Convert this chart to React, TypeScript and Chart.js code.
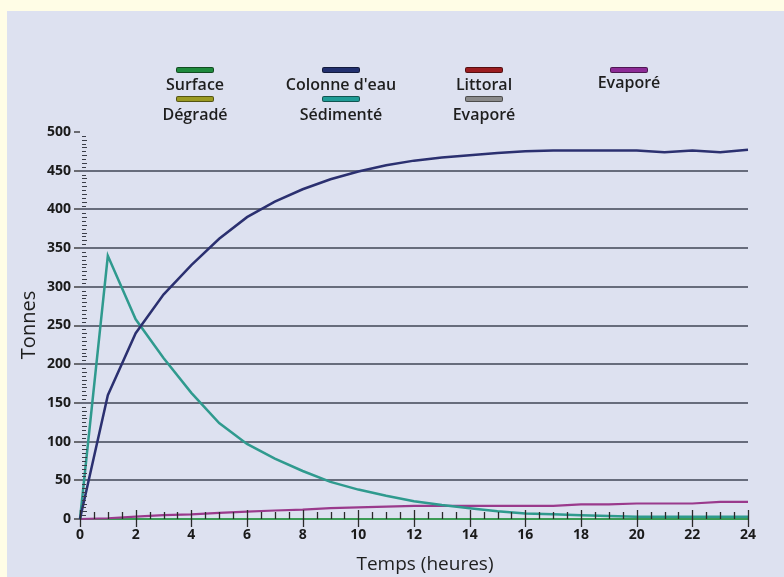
import React, { useEffect, useRef } from "react";
import { Chart, registerables } from "chart.js";

Chart.register(...registerables);

// ---- data ----
const hours = [0, 1, 2, 3, 4, 5, 6, 7, 8, 9, 10, 11, 12, 13, 14, 15, 16, 17, 18, 19, 20, 21, 22, 23, 24];
const colonneEau = [0, 160, 240, 290, 328, 362, 390, 410, 426, 439, 449, 457, 463, 467, 470, 473, 475, 476, 476, 476, 476, 474, 476, 474, 477];
const sedimente = [0, 340, 258, 208, 163, 124, 97, 78, 62, 48, 38, 30, 23, 18, 14, 10, 7, 6, 5, 4, 3, 3, 3, 3, 3];
const evaporeViolet = [0, 1, 3, 5, 6, 8, 9.5, 11, 12, 14, 15, 16, 17, 17, 17, 17, 17, 17, 19, 19, 20, 20, 20, 22, 22];
const surface = [0, 0, 0, 0, 0, 0, 0, 0, 0, 0, 0, 0, 0, 0, 0, 0, 0, 0, 0, 0, 0, 0, 0, 0, 0];
const littoral = [0, 0, 0, 0, 0, 0, 0, 0, 0, 0, 0, 0, 0, 0, 0, 0, 0, 0, 0, 0, 0, 0, 0, 0, 0];
const degrade = [0, 0, 0, 0, 0, 0, 0, 0, 0, 0, 0, 0, 0, 0, 0, 0, 0, 0, 0, 0, 0, 0, 0, 0, 0];
const evaporeGris = [0, 0, 0, 0, 0, 0, 0, 0, 0, 0, 0, 0, 0, 0, 0, 0, 0, 0, 0, 0, 0, 0, 0, 0, 0];

const xTickStep = 2;
const xMinorStep = 0.5;
const yTickStep = 50;
const yMinorStep = 5;
const yMax = 500;
const xMax = 24;

const xTitle = "Temps (heures)";
const yTitle = "Tonnes";

// legend: label, colour, centre x, top of swatch, label centre y
const legendLabels = ["Surface", "Colonne d'eau", "Littoral", "Evaporé", "Dégradé", "Sédimenté", "Evaporé"];
const legendColors = ["#1f8a3d", "#22306f", "#9b1c20", "#8c2a96", "#9a9a22", "#1f9c96", "#8a8a8a"];
const legendCx = [195, 341, 484, 629, 195, 341, 484];
const legendSwatchY = [67, 67, 67, 67, 96, 96, 96];
const legendTextY = [84, 84, 84, 82, 114, 114, 114];

const FONT = "'Open Sans', 'DejaVu Sans', sans-serif";

const ticksPlugin = {
  id: "manualTicks",
  afterDatasetsDraw(chart: any) {
    const { ctx, scales } = chart;
    const x = scales.x;
    const y = scales.y;
    ctx.save();
    const left = x.getPixelForValue(0);
    const base = y.getPixelForValue(0);
    // y minor ticks
    ctx.strokeStyle = "#3a3d48";
    ctx.lineWidth = 1;
    for (let v = yMinorStep; v < yMax; v += yMinorStep) {
      if (v % yTickStep === 0) continue;
      const py = Math.round(y.getPixelForValue(v)) + 0.5;
      const len = v % 10 === 0 ? 5 : 4;
      ctx.beginPath();
      ctx.moveTo(left + 2, py);
      ctx.lineTo(left + 2 + len, py);
      ctx.stroke();
    }
    // x ticks
    ctx.strokeStyle = "#2a2a2a";
    ctx.lineWidth = 1.3;
    for (let t = 0; t <= xMax + 1e-9; t += xMinorStep) {
      const px = Math.round(x.getPixelForValue(t)) + 0.5;
      ctx.beginPath();
      if (Math.abs(t % xTickStep) < 1e-9) {
        ctx.moveTo(px, base - 9);
        ctx.lineTo(px, base + 8);
      } else {
        ctx.moveTo(px, base - 7);
        ctx.lineTo(px, base);
      }
      ctx.stroke();
    }
    ctx.restore();
  },
};

export default function App() {
  const canvasRef = useRef<HTMLCanvasElement | null>(null);

  useEffect(() => {
    const canvas = canvasRef.current;
    if (!canvas) return;
    const mk = (data: number[], color: string, width: number, order: number) => ({
      data: hours.map((h, i) => ({ x: h, y: data[i] })),
      borderColor: color,
      backgroundColor: color,
      borderWidth: width,
      pointRadius: 0,
      tension: 0,
      fill: false,
      clip: 6,
      order,
    });
    const chart = new Chart(canvas, {
      type: "line",
      data: {
        datasets: [
          mk(evaporeGris, "#8a8a8a", 2, 7),
          mk(degrade, "#9a9a22", 2, 6),
          mk(littoral, "#9b1c20", 2, 5),
          mk(surface, "#3c9a55", 2, 4),
          mk(evaporeViolet, "#9a3a8c", 2.2, 3),
          mk(sedimente, "#2f9a8e", 2.5, 2),
          mk(colonneEau, "#2b3070", 2.5, 1),
        ] as any,
      },
      options: {
        responsive: false,
        animation: false,
        events: [],
        layout: { padding: { top: 132, right: 36, bottom: 0, left: 0 } },
        plugins: {
          legend: { display: false },
          tooltip: { enabled: false },
          title: { display: false },
        },
        scales: {
          x: {
            type: "linear",
            min: 0,
            max: xMax,
            border: { display: false },
            grid: { display: false, drawTicks: false },
            ticks: {
              stepSize: xTickStep,
              padding: 8,
              color: "#1a1a1a",
              font: { family: FONT, size: 14, weight: "bold" },
            },
            afterFit: (s: any) => {
              s.height = 58;
            },
          },
          y: {
            type: "linear",
            min: 0,
            max: yMax,
            border: { display: false },
            grid: {
              drawTicks: true,
              tickLength: 6,
              tickWidth: 1.3,
              tickColor: "#2a2a2a",
              lineWidth: 2,
              color: (c: any) =>
                c.tick && (c.tick.value === 0 || c.tick.value === yMax) ? "rgba(0,0,0,0)" : "#676c7c",
            },
            ticks: {
              stepSize: yTickStep,
              padding: 3,
              color: "#1a1a1a",
              font: { family: FONT, size: 14, weight: "bold" },
            },
            afterFit: (s: any) => {
              s.width = 80;
            },
          },
        },
      },
      plugins: [ticksPlugin],
    } as any);
    return () => chart.destroy();
  }, []);

  return (
    <div style={{ position: "absolute", left: 0, top: 0, width: 784, height: 577, background: "#fffde6", overflow: "hidden" }}>
      <div style={{ position: "absolute", left: 7, top: 11, width: 777, height: 566, background: "#dde1f0" }} />
      <canvas ref={canvasRef} width={784} height={577} style={{ position: "absolute", left: 0, top: 0, width: 784, height: 577 }} />
      {legendLabels.map((lab, i) => (
        <React.Fragment key={i}>
          <div
            style={{
              position: "absolute",
              left: legendCx[i] - 19,
              top: legendSwatchY[i],
              width: 36,
              height: 4,
              background: legendColors[i],
              border: "1px solid rgba(0,0,0,0.45)",
              borderRadius: 2,
            }}
          />
          <div
            style={{
              position: "absolute",
              left: legendCx[i] - 80,
              width: 160,
              top: legendTextY[i] - 11,
              height: 22,
              lineHeight: "22px",
              textAlign: "center",
              fontFamily: FONT,
              fontSize: 16,
              fontWeight: 600,
              color: "#1e1e1e",
              whiteSpace: "nowrap",
            }}
          >
            {lab}
          </div>
        </React.Fragment>
      ))}
      <div
        style={{
          position: "absolute",
          left: 28 - 60,
          top: 325 - 13,
          width: 120,
          height: 26,
          lineHeight: "26px",
          textAlign: "center",
          transform: "rotate(-90deg)",
          fontFamily: FONT,
          fontSize: 20,
          fontWeight: 500,
          color: "#1e1e1e",
        }}
      >
        {yTitle}
      </div>
      <div
        style={{
          position: "absolute",
          left: 425 - 120,
          top: 563 - 13,
          width: 240,
          height: 26,
          lineHeight: "26px",
          textAlign: "center",
          fontFamily: FONT,
          fontSize: 19,
          fontWeight: 500,
          color: "#1e1e1e",
        }}
      >
        {xTitle}
      </div>
    </div>
  );
}
